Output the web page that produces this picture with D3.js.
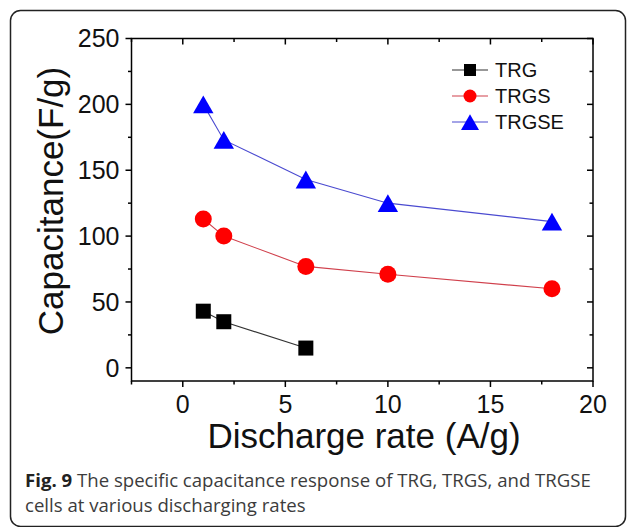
<!DOCTYPE html>
<html>
<head>
<meta charset="utf-8">
<script src="https://cdn.jsdelivr.net/npm/d3@7"></script>
<style>
  html, body { margin: 0; padding: 0; background: #fff; }
  svg { display: block; }
</style>
</head>
<body>
<svg id="chart" width="630" height="527"></svg>
<script>
// Capacitância específica vs. taxa de descarga (Fig. 9)

const rates = [1, 2, 6, 10, 18];
const trg = [43, 35, 15];
const trgs = [113, 100, 77, 71, 60];
const trgse = [200, 173, 143, 125, 111];

const xTicks = [0, 5, 10, 15, 20];
const xMinor = [-2.5, 2.5, 7.5, 12.5, 17.5];
const yTicks = [0, 50, 100, 150, 200, 250];
const yMinor = [25, 75, 125, 175, 225];

const seriesNames = ["TRG", "TRGS", "TRGSE"];
const captionBold = "Fig. 9";
const captionLine1 = " The specific capacitance response of TRG, TRGS, and TRGSE";
const captionLine2 = "cells at various discharging rates";

const series = [
  { name: seriesNames[0], values: trg, shape: "square", fill: "#000", line: "#333" },
  { name: seriesNames[1], values: trgs, shape: "circle", fill: "#ff0000", line: "#d0404c" },
  { name: seriesNames[2], values: trgse, shape: "triangle", fill: "#0000ff", line: "#4a4ad0" },
];

const svg = d3.select("#chart");
const font = "'Liberation Sans', Arial, sans-serif";

// moldura arredondada em volta da figura
svg.append("rect")
  .attr("x", 10.5).attr("y", 10.5).attr("width", 615).attr("height", 516)
  .attr("rx", 10).attr("fill", "none").attr("stroke", "#222").attr("stroke-width", 1.5);

const L = 131.5, R = 593, T = 38.5, B = 381;
const x = d3.scaleLinear().domain([-2.5, 20]).range([L, R]);
const y = d3.scaleLinear().domain([-10, 250]).range([B, T]);

const g = svg.append("g");

// marcadores: quadrado, círculo e triângulo (estilo Origin)
function marker(sel, shape, cx, cy, s, fill) {
  if (shape === "square") {
    sel.append("rect").attr("x", cx - s / 2).attr("y", cy - s / 2)
      .attr("width", s).attr("height", s).attr("fill", fill);
  } else if (shape === "circle") {
    sel.append("circle").attr("cx", cx).attr("cy", cy).attr("r", s / 2).attr("fill", fill);
  } else {
    const w = s * 1.2, h = s * 1.05;
    sel.append("path")
      .attr("d", `M${cx},${cy - h / 2}L${cx + w / 2},${cy + h / 2}L${cx - w / 2},${cy + h / 2}Z`)
      .attr("fill", fill);
  }
}

// linhas conectoras
series.forEach((s) => {
  const pts = s.values.map((v, i) => [x(rates[i]), y(v)]);
  g.append("path").attr("d", d3.line()(pts))
    .attr("fill", "none").attr("stroke", s.line).attr("stroke-width", 1.1);
});
series.forEach((s) => {
  const size = s.shape === "square" ? 15 : 17;
  s.values.forEach((v, i) => marker(g, s.shape, x(rates[i]), y(v), size, s.fill));
});

// eixos: esquerdo/inferior com ticks para fora, superior/direito espelhados para dentro
const ax = svg.append("g").attr("stroke", "#000");
ax.append("rect").attr("x", L).attr("y", T).attr("width", R - L).attr("height", B - T)
  .attr("fill", "none").attr("stroke-width", 1.5);

xTicks.forEach((t) => {
  ax.append("line").attr("x1", x(t)).attr("x2", x(t)).attr("y1", B).attr("y2", B + 6).attr("stroke-width", 1.5);
  ax.append("line").attr("x1", x(t)).attr("x2", x(t)).attr("y1", T).attr("y2", T + 6).attr("stroke-width", 1.5);
});
xMinor.forEach((t) => {
  ax.append("line").attr("x1", x(t)).attr("x2", x(t)).attr("y1", B).attr("y2", B + 3.5).attr("stroke-width", 1.5);
  ax.append("line").attr("x1", x(t)).attr("x2", x(t)).attr("y1", T).attr("y2", T + 3.5).attr("stroke-width", 1.5);
});
yTicks.forEach((t) => {
  ax.append("line").attr("x1", L - 6).attr("x2", L).attr("y1", y(t)).attr("y2", y(t)).attr("stroke-width", 1.5);
  ax.append("line").attr("x1", R - 6).attr("x2", R).attr("y1", y(t)).attr("y2", y(t)).attr("stroke-width", 1.5);
});
yMinor.forEach((t) => {
  ax.append("line").attr("x1", L - 3.5).attr("x2", L).attr("y1", y(t)).attr("y2", y(t)).attr("stroke-width", 1.5);
  ax.append("line").attr("x1", R - 3.5).attr("x2", R).attr("y1", y(t)).attr("y2", y(t)).attr("stroke-width", 1.5);
});

const lab = svg.append("g").style("font-family", font).attr("fill", "#111");
xTicks.forEach((t) => {
  lab.append("text").attr("x", x(t)).attr("y", 413).attr("text-anchor", "middle")
    .style("font-size", "25px").text(t);
});
yTicks.forEach((t) => {
  lab.append("text").attr("x", L - 12).attr("y", y(t)).attr("dy", "0.35em").attr("text-anchor", "end")
    .style("font-size", "25px").text(t);
});
lab.append("text").attr("x", 364).attr("y", 448).attr("text-anchor", "middle")
  .style("font-size", "35px").text("Discharge rate (A/g)");
lab.append("text").attr("transform", "translate(63,201) rotate(-90)").attr("text-anchor", "middle")
  .style("font-size", "35px").text("Capacitance(F/g)");

// legenda
series.forEach((s, i) => {
  const ly = 70 + i * 26;
  svg.append("line").attr("x1", 452).attr("x2", 488).attr("y1", ly).attr("y2", ly)
    .attr("stroke", s.line).attr("stroke-width", 1.1);
  const size = s.shape === "square" ? 12 : s.shape === "circle" ? 13 : 15;
  marker(svg, s.shape, 470, ly, size, s.fill);
  svg.append("text").attr("x", 495).attr("y", ly).attr("dy", "0.36em")
    .style("font-family", font).style("font-size", "20px").attr("fill", "#111").text(s.name);
});

// legenda da figura
const cap = svg.append("g").style("font-family", "'Open Sans', 'Noto Sans', sans-serif").style("font-size", "18.6px");
const t1 = cap.append("text").attr("x", 25).attr("y", 487).attr("fill", "#3c3c3c");
t1.append("tspan").style("font-weight", "bold").attr("fill", "#222").text(captionBold);
t1.append("tspan").text(captionLine1);
cap.append("text").attr("x", 25).attr("y", 512).attr("fill", "#3c3c3c").text(captionLine2);
</script>
</body>
</html>
